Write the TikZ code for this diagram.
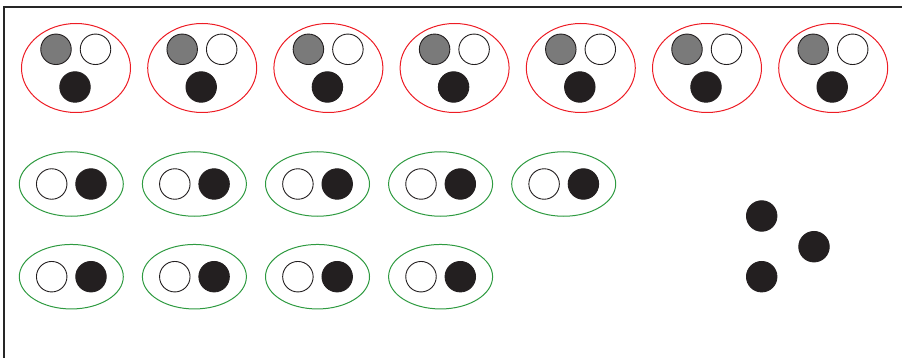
\documentclass[tikz,border=0pt]{standalone}
\usetikzlibrary{shapes.geometric}
\definecolor{setred}{RGB}{237,28,36}
\definecolor{setgreen}{RGB}{46,154,64}
\definecolor{ink}{RGB}{35,31,32}
\definecolor{midgray}{RGB}{122,122,122}
\tikzset{
  ball/.style={circle, draw=ink, line width=0.9pt, minimum size=30.5pt, inner sep=0pt},
  grayball/.style={ball, fill=midgray},
  whiteball/.style={ball, fill=white},
  blackball/.style={ball, fill=ink},
  redset/.style={ellipse, draw=setred, line width=1pt, minimum width=109pt, minimum height=89pt, inner sep=0pt},
  greenset/.style={ellipse, draw=setgreen, line width=1pt, minimum width=104pt, minimum height=64.5pt, inner sep=0pt},
}
\begin{document}
\begin{tikzpicture}[x=1pt,y=-1pt]
  \useasboundingbox (0,0) rectangle (902,358);
  % frame (left and top only)
  \coordinate (fb) at (4,358);
  \coordinate (fc) at (4,7);
  \coordinate (fr) at (902,7);
  \draw[line width=1.2pt, draw=black!85] (fb) -- (fc) -- (fr);
  % red sets: gray, white, black
  \foreach \i in {0,...,6}{
    \node[redset] (r\i) at (76+126.2*\i,68) {};
    \node[grayball] (r\i g) at (56+126.2*\i,49.3) {};
    \node[whiteball] (r\i w) at (95.5+126.2*\i,49.3) {};
    \node[blackball] (r\i b) at (75+126.2*\i,87) {};
  }
  % green sets: white, black
  \foreach \i in {0,...,4}{
    \node[greenset] (ga\i) at (71.3+123.1*\i,184) {};
    \node[whiteball] (ga\i w) at (51.7+123.1*\i,184) {};
    \node[blackball] (ga\i b) at (91+123.1*\i,184) {};
  }
  \foreach \i in {0,...,3}{
    \node[greenset] (gb\i) at (71.3+123.1*\i,276.7) {};
    \node[whiteball] (gb\i w) at (51.7+123.1*\i,276.7) {};
    \node[blackball] (gb\i b) at (91+123.1*\i,276.7) {};
  }
  % loose black balls
  \node[blackball] (d1) at (761.7,216) {};
  \node[blackball] (d2) at (814,246.7) {};
  \node[blackball] (d3) at (761.7,276.7) {};
\end{tikzpicture}
\end{document}
